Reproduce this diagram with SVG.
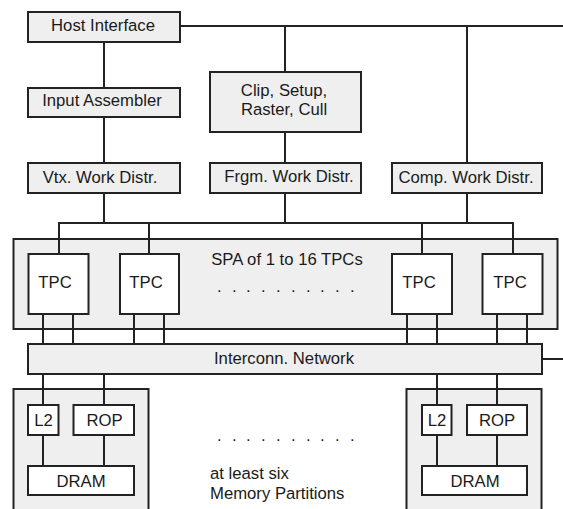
<svg xmlns="http://www.w3.org/2000/svg" width="563" height="509" viewBox="0 0 563 509">
  <style>
    .box { fill: #efefef; stroke: #222; stroke-width: 2; }
    .unit { fill: #ffffff; stroke: #222; stroke-width: 2; }
    .wire { fill: none; stroke: #222; stroke-width: 2; }
    text { font-family: "Liberation Sans", Arial, sans-serif; font-size: 16.7px; fill: #1a1a1a; }
    .c { text-anchor: middle; }
  </style>
  <rect width="563" height="509" fill="#ffffff"/>

  <!-- containers -->
  <g id="spa">
    <rect class="box" x="13.5" y="239" width="544" height="90"/>
    <text class="c" x="287" y="265">SPA of 1 to 16 TPCs</text>
    <text x="217 232 246 261 276 291 306 320 335 350" y="292">..........</text>
  </g>
  <g id="mem-partition-left">
    <rect class="box" x="13.5" y="389" width="135" height="130"/>
  </g>
  <g id="mem-partition-right">
    <rect class="box" x="406.5" y="389" width="135" height="130"/>
  </g>

  <!-- connectors -->
  <g id="connectors" class="wire">
    <path d="M180 26 H563"/>
    <path d="M104 42 V88 M104 117 V163 M104 193 V223"/>
    <path d="M285 26 V72 M285 132 V163 M285 193 V223"/>
    <path d="M467 26 V163 M467 193 V223"/>
    <path d="M58 223 H514"/>
    <path d="M59 223 V254 M149 223 V254 M422 223 V254 M513 223 V254"/>
    <path d="M43 314 V344 M73 314 V344 M134 314 V344 M164 314 V344"/>
    <path d="M407 314 V344 M437 314 V344 M497 314 V344 M527 314 V344"/>
    <path d="M542 359 H563"/>
    <path d="M43 374 V405 M104 374 V405 M437 374 V405 M497 374 V405"/>
    <path d="M43 435 V466 M104 435 V466 M437 435 V466 M497 435 V466"/>
  </g>

  <!-- front end -->
  <g id="host-interface">
    <rect class="box" x="28" y="12" width="152" height="30"/>
    <text class="c" x="103" y="31">Host Interface</text>
  </g>
  <g id="input-assembler">
    <rect class="box" x="28" y="88" width="152" height="29"/>
    <text class="c" x="102" y="106">Input Assembler</text>
  </g>
  <g id="vtx-work-distr">
    <rect class="box" x="28" y="163" width="152" height="30"/>
    <text class="c" x="100" y="182.5">Vtx. Work Distr.</text>
  </g>
  <g id="clip-setup">
    <rect class="box" x="210" y="72" width="151" height="60"/>
    <text class="c" x="284" y="95.5">Clip, Setup,</text>
    <text class="c" x="284" y="115">Raster, Cull</text>
  </g>
  <g id="frgm-work-distr">
    <rect class="box" x="210" y="163" width="151" height="30"/>
    <text class="c" x="289" y="182">Frgm. Work Distr.</text>
  </g>
  <g id="comp-work-distr">
    <rect class="box" x="392" y="163" width="150" height="30"/>
    <text class="c" x="466" y="182.5">Comp. Work Distr.</text>
  </g>

  <!-- texture/processor clusters -->
  <g id="tpc-1">
    <rect class="unit" x="28.5" y="254" width="60" height="60"/>
    <text class="c" x="55" y="288">TPC</text>
  </g>
  <g id="tpc-2">
    <rect class="unit" x="120" y="254" width="59" height="60"/>
    <text class="c" x="146" y="288">TPC</text>
  </g>
  <g id="tpc-3">
    <rect class="unit" x="392" y="254" width="60" height="60"/>
    <text class="c" x="419" y="288">TPC</text>
  </g>
  <g id="tpc-4">
    <rect class="unit" x="482.5" y="254" width="60" height="60"/>
    <text class="c" x="510" y="288">TPC</text>
  </g>

  <!-- interconnect -->
  <g id="interconn-network">
    <rect class="box" x="28" y="344" width="514" height="30"/>
    <text class="c" x="284" y="364">Interconn. Network</text>
  </g>

  <!-- memory partitions -->
  <g id="l2-left">
    <rect class="unit" x="28" y="405" width="30.5" height="30"/>
    <text class="c" x="43.5" y="425.5">L2</text>
  </g>
  <g id="rop-left">
    <rect class="unit" x="73.5" y="405" width="60.5" height="30"/>
    <text class="c" x="104.5" y="425.5">ROP</text>
  </g>
  <g id="dram-left">
    <rect class="unit" x="28" y="466" width="106" height="29"/>
    <text class="c" x="81" y="487">DRAM</text>
  </g>
  <g id="l2-right">
    <rect class="unit" x="422" y="405" width="29.5" height="30"/>
    <text class="c" x="437" y="425.5">L2</text>
  </g>
  <g id="rop-right">
    <rect class="unit" x="467" y="405" width="60" height="30"/>
    <text class="c" x="497" y="425.5">ROP</text>
  </g>
  <g id="dram-right">
    <rect class="unit" x="422" y="466" width="105" height="29"/>
    <text class="c" x="475" y="487">DRAM</text>
  </g>

  <g id="partition-note">
    <text x="217 232 246 261 276 291 306 320 335 350" y="441">..........</text>
    <text x="210" y="479">at least six</text>
    <text x="210" y="499">Memory Partitions</text>
  </g>
</svg>
